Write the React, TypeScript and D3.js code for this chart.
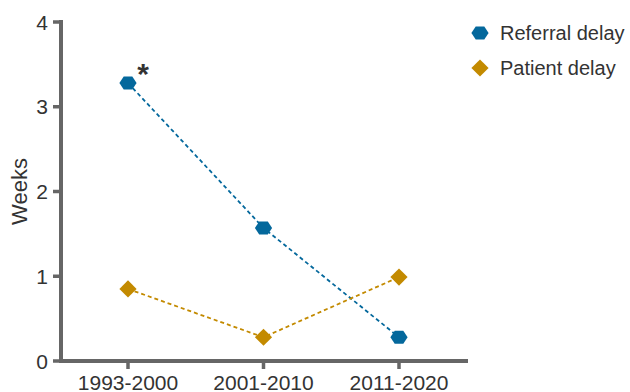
import React from "react";
import * as d3 from "d3";

const periods = ["1993-2000", "2001-2010", "2011-2020"];
const referralDelay = [3.28, 1.57, 0.28];
const patientDelay = [0.85, 0.28, 0.99];
const yTicks = [0, 1, 2, 3, 4];

const BLUE = "#04689c";
const GOLD = "#c38a00";
const AXIS = "#666666";
const TEXT = "#333333";
const FONT = "Arial, 'Liberation Sans', Helvetica, sans-serif";

const W = 630;
const H = 392;

function hexPath(r: number) {
  const pts: [number, number][] = [];
  for (let i = 0; i < 6; i++) {
    const a = (Math.PI / 3) * i;
    pts.push([r * Math.cos(a), r * 0.88 * Math.sin(a)]);
  }
  return d3.line()(pts.concat([pts[0]])) + "Z";
}

function diamondPath(r: number) {
  const pts: [number, number][] = [
    [0, -r],
    [r, 0],
    [0, r],
    [-r, 0],
  ];
  return d3.line()(pts) + "Z";
}

export default function App() {
  const x = d3.scalePoint<string>().domain(periods).range([128, 399]);
  const y = d3.scaleLinear().domain([0, 4]).range([361, 22]);
  const axisLeft = 61;
  const axisRight = 468;

  const line = d3
    .line<number>()
    .x((_, i) => x(periods[i]) as number)
    .y((d) => y(d));

  const hex = hexPath(8.6);
  const diamond = diamondPath(8.6);

  return (
    <svg
      width={W}
      height={H}
      style={{ position: "absolute", left: 0, top: 0, background: "#fff" }}
      fontFamily={FONT}
    >
      {/* axes */}
      <line x1={axisLeft} x2={axisLeft} y1={y(4) - 2} y2={y(0)} stroke={AXIS} strokeWidth={4} />
      <line x1={axisLeft - 2} x2={axisRight} y1={y(0)} y2={y(0)} stroke={AXIS} strokeWidth={4} />
      {yTicks.map((t) => (
        <g key={t}>
          <line x1={axisLeft - 8} x2={axisLeft} y1={y(t)} y2={y(t)} stroke={AXIS} strokeWidth={3.5} />
          <text x={48} y={y(t)} dy="0.36em" textAnchor="end" fontSize={21} fill={TEXT}>
            {t}
          </text>
        </g>
      ))}
      {periods.map((p) => (
        <g key={p}>
          <line x1={x(p)} x2={x(p)} y1={y(0)} y2={y(0) + 8} stroke={AXIS} strokeWidth={3.5} />
          <text x={x(p)} y={390} textAnchor="middle" fontSize={21} fill={TEXT}>
            {p}
          </text>
        </g>
      ))}
      <text
        transform={`translate(27,${(y(0) + y(4)) / 2}) rotate(-90)`}
        textAnchor="middle"
        fontSize={22}
        fill={TEXT}
      >
        Weeks
      </text>

      {/* series lines */}
      <path d={line(referralDelay) || ""} fill="none" stroke={BLUE} strokeWidth={1.8} strokeDasharray="4,3" />
      <path d={line(patientDelay) || ""} fill="none" stroke={GOLD} strokeWidth={1.8} strokeDasharray="4,3" />

      {/* markers */}
      {patientDelay.map((v, i) => (
        <path key={"p" + i} d={diamond} transform={`translate(${x(periods[i])},${y(v)})`} fill={GOLD} />
      ))}
      {referralDelay.map((v, i) => (
        <path key={"r" + i} d={hex} transform={`translate(${x(periods[i])},${y(v)})`} fill={BLUE} />
      ))}

      {/* significance marker */}
      <text
        x={(x(periods[0]) as number) + 15}
        y={y(referralDelay[0]) + 1}
        textAnchor="middle"
        fontSize={30}
        fontWeight="bold"
        fill={TEXT}
      >
        *
      </text>

      {/* legend */}
      <path d={hex} transform="translate(480,33)" fill={BLUE} />
      <text x={500} y={40} fontSize={20} fill={TEXT}>
        Referral delay
      </text>
      <path d={diamond} transform="translate(480,68)" fill={GOLD} />
      <text x={500} y={75} fontSize={20} fill={TEXT}>
        Patient delay
      </text>
    </svg>
  );
}
